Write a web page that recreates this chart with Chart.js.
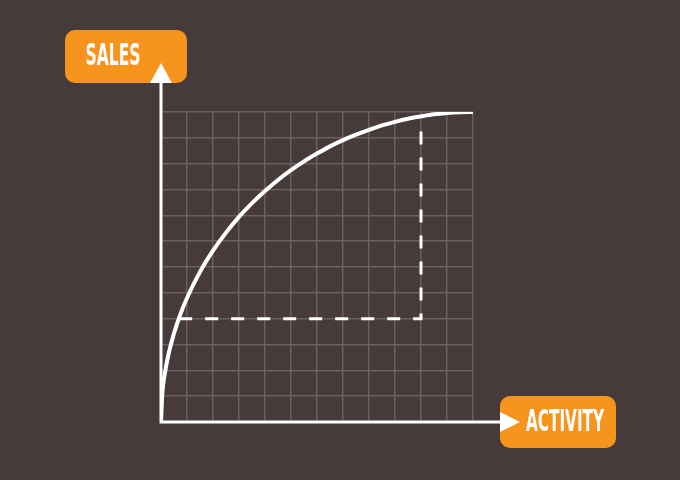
<!DOCTYPE html>
<html>
<head>
<meta charset="utf-8">
<script src="https://cdn.jsdelivr.net/npm/chart.js@4/dist/chart.umd.min.js"></script>
<style>
  html, body { margin: 0; padding: 0; background: #473a3a; }
  #wrap { width: 680px; height: 480px; }
</style>
</head>
<body>
<div id="wrap"><canvas id="myChart" width="680" height="480"></canvas></div>
<script>
// activity (x) and sales (y)
var activity = [0, 0.05, 0.15, 0.3, 0.5, 0.75, 1, 1.5, 2, 2.5, 3, 3.5, 4, 4.5, 5, 5.5, 6, 6.5, 7, 7.5, 8, 8.5, 9, 9.5, 10, 10.5, 11, 11.5, 12];
var sales    = [0, 1.09, 1.89, 2.67, 3.43, 4.18, 4.8, 5.81, 6.63, 7.33, 7.94, 8.47, 8.94, 9.37, 9.75, 10.09, 10.39, 10.67, 10.91, 11.12, 11.31, 11.48, 11.62, 11.74, 11.83, 11.91, 11.96, 11.99, 12];
// dashed guide: from the curve at sales 4 to activity 10, then up to the curve
var guideX = [0.7, 10, 10];
var guideY = [4, 4, 11.75];
var axisMax = 12;
var xLabel = 'ACTIVITY';
var yLabel = 'SALES';

document.addEventListener('DOMContentLoaded', function () {
  var ctx = document.getElementById('myChart').getContext('2d');

  function roundBox(c, x, y, w, h, r) {
    c.beginPath();
    c.moveTo(x + r, y);
    c.arcTo(x + w, y, x + w, y + h, r);
    c.arcTo(x + w, y + h, x, y + h, r);
    c.arcTo(x, y + h, x, y, r);
    c.arcTo(x, y, x + w, y, r);
    c.closePath();
    c.fill();
  }

  function squeezeText(c, text, cx, cy, width) {
    c.save();
    c.font = 'bold 30px "Liberation Sans Narrow", "DejaVu Sans Condensed", sans-serif';
    c.textAlign = 'center';
    c.textBaseline = 'middle';
    var w = c.measureText(text).width;
    c.translate(cx, cy);
    c.scale(width / w, 1);
    c.fillStyle = '#ffffff';
    c.fillText(text, 0, 1);
    c.restore();
  }

  // axes with arrows and orange label boxes
  var arrowAxes = {
    id: 'arrowAxes',
    afterDatasetsDraw: function (chart) {
      var c = chart.ctx;
      var xs = chart.scales.x, ys = chart.scales.y;
      var x0 = xs.getPixelForValue(0), y0 = ys.getPixelForValue(0);
      var top = ys.getPixelForValue(axisMax);
      var right = xs.getPixelForValue(axisMax);
      c.save();
      // label boxes
      c.fillStyle = '#f7941d';
      roundBox(c, x0 - 96, top - 82, 122, 53, 10);
      roundBox(c, right + 27, y0 - 26, 116, 52, 10);
      squeezeText(c, yLabel, x0 - 48, top - 56, 55);
      squeezeText(c, xLabel, right + 92, y0, 78);
      // axis lines
      c.strokeStyle = '#ffffff';
      c.lineWidth = 3;
      c.beginPath();
      c.moveTo(x0, y0 + 1.5);
      c.lineTo(x0, top - 29);
      c.moveTo(x0 - 1.5, y0);
      c.lineTo(right + 27, y0);
      c.stroke();
      // arrow heads
      c.fillStyle = '#ffffff';
      c.beginPath();
      c.moveTo(x0, top - 49);
      c.lineTo(x0 - 11, top - 29);
      c.lineTo(x0 + 11, top - 29);
      c.closePath();
      c.fill();
      c.beginPath();
      c.moveTo(right + 47, y0);
      c.lineTo(right + 27, y0 - 10);
      c.lineTo(right + 27, y0 + 10);
      c.closePath();
      c.fill();
      c.restore();
    }
  };

  new Chart(ctx, {
    type: 'scatter',
    data: {
      datasets: [{
        label: 'Sales',
        data: activity.map(function (a, i) { return { x: a, y: sales[i] }; }),
        showLine: true,
        borderColor: '#ffffff',
        borderWidth: 4,
        pointRadius: 0,
        cubicInterpolationMode: 'monotone',
        borderCapStyle: 'round',
        borderJoinStyle: 'round',
        fill: false,
        order: 1
      }, {
        label: 'Guide',
        data: guideX.map(function (a, i) { return { x: a, y: guideY[i] }; }),
        showLine: true,
        borderColor: '#ffffff',
        borderWidth: 3,
        borderDash: [13, 13],
        pointRadius: 0,
        tension: 0,
        fill: false,
        order: 2
      }]
    },
    options: {
      responsive: false,
      animation: false,
      layout: { padding: { left: 161, top: 112, right: 207, bottom: 58 } },
      plugins: {
        legend: { display: false },
        tooltip: { enabled: false }
      },
      scales: {
        x: {
          type: 'linear', min: 0, max: axisMax,
          ticks: { display: false, stepSize: 1 },
          grid: { color: '#6c5f5f', lineWidth: 1.5, drawTicks: false },
          border: { display: false }
        },
        y: {
          type: 'linear', min: 0, max: axisMax,
          ticks: { display: false, stepSize: 1 },
          grid: { color: '#6c5f5f', lineWidth: 1.5, drawTicks: false },
          border: { display: false }
        }
      }
    },
    plugins: [arrowAxes]
  });
});
</script>
</body>
</html>
